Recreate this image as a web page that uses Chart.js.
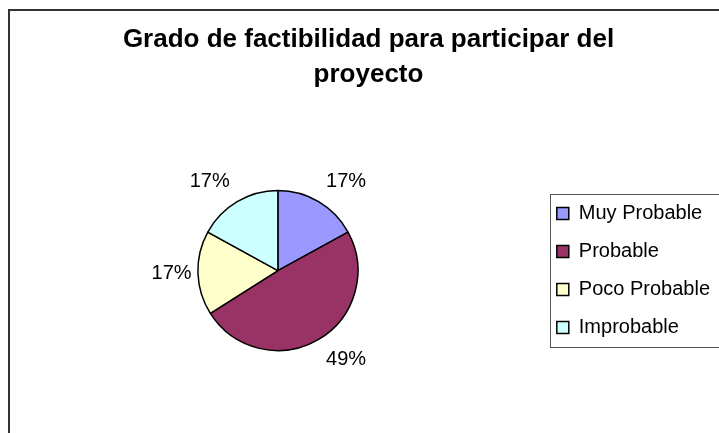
<!DOCTYPE html>
<html>
<head>
<meta charset="utf-8">
<script src="https://cdn.jsdelivr.net/npm/chart.js@4/dist/chart.umd.min.js"></script>
<style>
    html, body { margin: 0; padding: 0; background: #fff; overflow: hidden; }
    #wrap { width: 720px; height: 433px; }
</style>
</head>
<body>
<div id="wrap"><canvas id="factChart" width="720" height="433"></canvas></div>
<script>
const chart_title = ['Grado de factibilidad para participar del', 'proyecto'];
const categories = ['Muy Probable', 'Probable', 'Poco Probable', 'Improbable'];
const values = [17, 49, 17, 17];
const slice_colors = ['#9999FF', '#993366', '#FFFFCC', '#CCFFFF'];

const font_family = '"Liberation Sans", Arial, sans-serif';

// percent labels outside each slice, roughly where excel puts them
const pct_labels = {
    id: 'pct_labels',
    afterDatasetsDraw(chart)
    {
        const ctx = chart.ctx;
        const meta = chart.getDatasetMeta(0);
        const total = values.reduce((sum, v) => sum + v, 0);

        ctx.save();
        ctx.font = '20px ' + font_family;
        ctx.fillStyle = '#000';
        ctx.textAlign = 'center';
        ctx.textBaseline = 'middle';

        meta.data.forEach((arc, i) => {
            const p = arc.getProps(['x', 'y', 'startAngle', 'endAngle', 'outerRadius'], true);
            const mid = (p.startAngle + p.endAngle) / 2;
            const dx = Math.cos(mid);
            const dy = Math.sin(mid);
            const gap = 6 + 10 * Math.abs(dy);
            const text = Math.round(values[i] / total * 100) + '%';
            const w = ctx.measureText(text).width;
            const h = 15;
            const ax = p.x + dx * (p.outerRadius + gap);
            const ay = p.y + dy * (p.outerRadius + gap);
            const sx = Math.abs(dx) < 0.2 ? 0 : Math.sign(dx);
            const sy = Math.abs(dy) < 0.2 ? 0 : Math.sign(dy);
            ctx.fillText(text, ax + sx * w / 2, ay + sy * h / 2);
        });
        ctx.restore();
    }
};

// outer chart frame + box around the legend
const frames = {
    id: 'frames',
    afterDraw(chart)
    {
        const ctx = chart.ctx;
        ctx.save();
        ctx.strokeStyle = '#333';
        ctx.lineWidth = 2;
        ctx.strokeRect(9, 10, 900, 900);

        const boxes = chart.legend.legendHitBoxes;
        if (boxes && boxes.length)
        {
            const first = boxes[0];
            const last = boxes[boxes.length - 1];
            const top = Math.round(first.top - 10) + 0.5;
            const bottom = Math.round(last.top + last.height + 9) + 0.5;
            const left = Math.round(first.left - 7) + 0.5;
            ctx.strokeStyle = '#555';
            ctx.lineWidth = 1;
            ctx.strokeRect(left, top, 400, bottom - top);
        }
        ctx.restore();
    }
};

const ctx = document.getElementById('factChart').getContext('2d');

const factChart = new Chart(ctx, {
    type: 'pie',
    data: {
        labels: categories,
        datasets: [{
            data: values,
            backgroundColor: slice_colors,
            borderColor: '#000',
            borderWidth: 1.5,
            radius: 80
        }]
    },
    options: {
        responsive: false,
        animation: false,
        layout: {
            padding: { left: 17, right: 0, top: 0, bottom: 0 }
        },
        plugins: {
            title: {
                display: true,
                text: chart_title,
                color: '#000',
                font: { family: font_family, size: 26, weight: 'bold', lineHeight: 1.33 },
                padding: { top: 23, bottom: 16 }
            },
            legend: {
                position: 'right',
                fullSize: false,
                labels: {
                    color: '#000',
                    font: { family: font_family, size: 20 },
                    boxWidth: 12,
                    boxHeight: 12,
                    padding: 18
                }
            },
            tooltip: { enabled: false }
        }
    },
    plugins: [pct_labels, frames]
});
</script>
</body>
</html>
